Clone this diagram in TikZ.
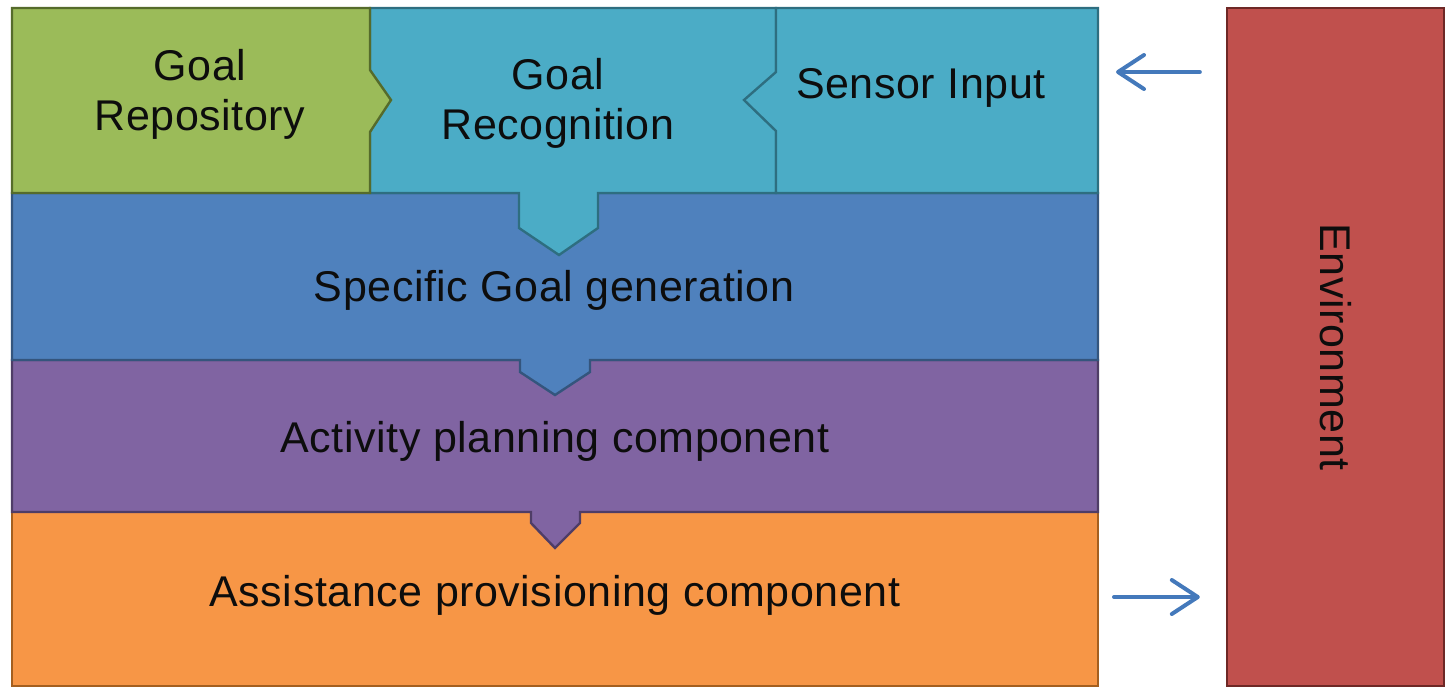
\documentclass[tikz,border=0pt]{standalone}
\usepackage{fontspec}
\setmainfont{Liberation Sans}[LetterSpace=1.3]
\usetikzlibrary{arrows.meta}

\definecolor{repofill}{HTML}{9BBB59}
\definecolor{repoline}{HTML}{556B2B}
\definecolor{recfill}{HTML}{4BACC6}
\definecolor{recline}{HTML}{2E6E80}
\definecolor{specfill}{HTML}{4F81BD}
\definecolor{specline}{HTML}{34557D}
\definecolor{actfill}{HTML}{8064A2}
\definecolor{actline}{HTML}{4F3D66}
\definecolor{assfill}{HTML}{F79646}
\definecolor{assline}{HTML}{A45F1F}
\definecolor{envfill}{HTML}{C0504D}
\definecolor{envline}{HTML}{6E2826}
\definecolor{flowblue}{HTML}{4479BB}

\begin{document}
\begin{tikzpicture}[x=0.5pt,y=-0.5pt,
  block/.style={line width=1.2pt,line join=miter},
  lbl/.style={font=\fontsize{21.5}{25}\selectfont,text=black!95,align=center,inner sep=0pt},
  flow/.style={draw=flowblue,line width=2pt,line cap=round,
    -{Straight Barb[length=13pt,width=17pt,line width=2pt,round]}}]
  \useasboundingbox (0,0) rectangle (1446,687);

  % stacked components, bottom one first so the notches sit on top
  \filldraw[block,fill=assfill,draw=assline] (12,512) rectangle (1098,686);
  \filldraw[block,fill=actfill,draw=actline] (12,360) -- (1098,360) -- (1098,512)
    -- (580,512) -- (580,523) -- (555,548) -- (531,523) -- (531,512) -- (12,512) -- cycle;
  \filldraw[block,fill=specfill,draw=specline] (12,193) -- (1098,193) -- (1098,360)
    -- (590,360) -- (590,372) -- (555,395) -- (520,372) -- (520,360) -- (12,360) -- cycle;
  \filldraw[block,fill=recfill,draw=recline] (370,8) -- (776,8) -- (776,193)
    -- (598,193) -- (598,228) -- (559,255) -- (519,228) -- (519,193) -- (370,193) -- cycle;
  \filldraw[block,fill=recfill,draw=recline] (776,8) -- (1098,8) -- (1098,193)
    -- (776,193) -- (776,131) -- (744,100) -- (776,72) -- cycle;
  \filldraw[block,fill=repofill,draw=repoline] (12,8) -- (370,8) -- (370,70)
    -- (391,100) -- (370,132) -- (370,193) -- (12,193) -- cycle;

  % labels
  \node[lbl] (repo) at (200,94) {Goal\\Repository};
  \node[lbl] (recog) at (558,103) {Goal\\Recognition};
  \node[lbl] (sensor) at (921,88) {Sensor Input};
  \node[lbl] (specific) at (554,290) {Specific Goal generation};
  \node[lbl] (activity) at (555,441) {Activity planning component};
  \node[lbl] (assist) at (555,595) {Assistance provisioning component};

  % environment
  \node[block,draw=envline,fill=envfill,minimum width=108.5pt,minimum height=339pt,
    inner sep=0pt,lbl] (env) at (1335.5,347) {\rotatebox{-90}{Environment}};

  % in and out
  \coordinate (senseport) at (1098,72);
  \coordinate (assistport) at (1098,597);
  \draw[flow,shorten <=13pt,shorten >=9pt] (env.west |- senseport) -- (senseport);
  \draw[flow,shorten <=8pt,shorten >=13pt] (assistport) -- (env.west |- assistport);
\end{tikzpicture}
\end{document}
